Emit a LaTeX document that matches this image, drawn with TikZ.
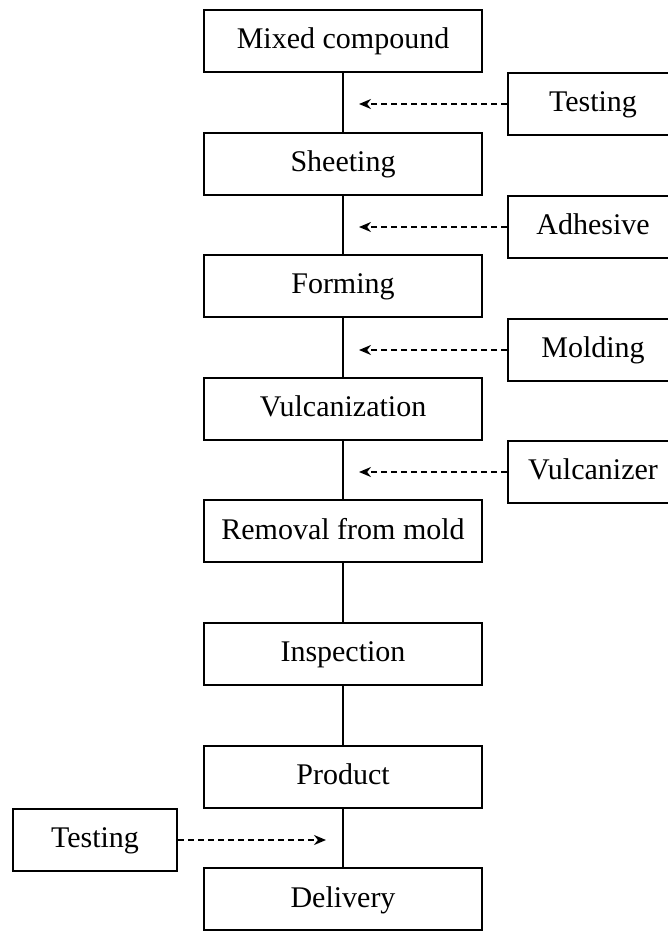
\documentclass[tikz,border=0pt]{standalone}
\usepackage{fontspec}
\setmainfont{Liberation Serif}
\usetikzlibrary{arrows.meta}

\tikzset{
  stage/.style={draw, line width=1pt, minimum width=139pt, minimum height=31pt, inner sep=0pt, text depth=0.25em},
  aux/.style={draw, line width=1pt, minimum width=85pt, minimum height=31pt, inner sep=0pt, text depth=0.25em},
  feed/.style={densely dashed, line width=0.9pt, -{Stealth[length=6pt,width=5pt]}},
}

\begin{document}
\begin{tikzpicture}[x=0.5pt, y=-0.5pt, node distance=61.3pt, font=\fontsize{15}{18}\selectfont]
\useasboundingbox (0,0) rectangle (668,932);
\clip (0,0) rectangle (668,932);
% main line
\node [stage] (mix) at (343,41) {Mixed compound};
\node [stage, below of=mix] (sheet) {Sheeting};
\node [stage, below of=sheet] (form) {Forming};
\node [stage, below of=form] (vulc) {Vulcanization};
\node [stage, below of=vulc] (remv) {Removal from mold};
\node [stage, below of=remv] (insp) {Inspection};
\node [stage, below of=insp] (prod) {Product};
\node [stage, below of=prod] (deliv) {Delivery};
% side inputs
\node [aux] (testin) at (593,104) {Testing};
\node [aux] (adhes) at (593,227) {Adhesive};
\node [aux] (mold) at (593,350) {Molding};
\node [aux] (vulcz) at (593,472) {Vulcanizer};
\node [aux, minimum width=82pt] (testout) at (95,840) {Testing};
\coordinate (testin-tip) at (359,104);
\coordinate (adhes-tip) at (359,227);
\coordinate (mold-tip) at (359,350);
\coordinate (vulcz-tip) at (359,472);
\coordinate (testout-tip) at (326,840);
\draw [line width=1pt] (mix) -- (sheet) -- (form) -- (vulc) -- (remv) -- (insp) -- (prod) -- (deliv);
\draw [feed] (testin) -- (testin-tip);
\draw [feed] (adhes) -- (adhes-tip);
\draw [feed] (mold) -- (mold-tip);
\draw [feed] (vulcz) -- (vulcz-tip);
\draw [feed] (testout) -- (testout-tip);
\end{tikzpicture}
\end{document}
